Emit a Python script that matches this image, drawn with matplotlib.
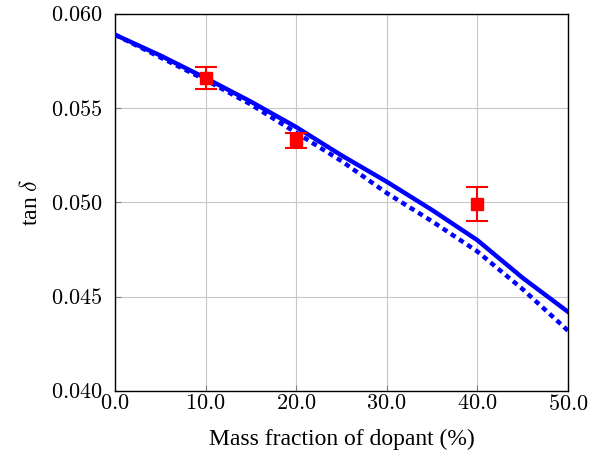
import numpy as np
import matplotlib.pyplot as plt

# model curves
x_model = [0, 5, 10, 15, 20, 25, 30, 35, 40, 45, 50]
tan_solid = [0.0589, 0.0578, 0.0566, 0.05535, 0.0540, 0.0525, 0.0511,
             0.0496, 0.0480, 0.0460, 0.0442]
tan_dashed = [0.0589, 0.0577, 0.0565, 0.0552, 0.0537, 0.0522, 0.0505,
              0.0490, 0.0474, 0.0454, 0.0432]

# measurements
x_meas = [10, 20, 40]
tan_meas = [0.0566, 0.0533, 0.0499]
tan_err = [0.0006, 0.0004, 0.0009]

x_ticks = [0, 10, 20, 30, 40, 50]
y_ticks = [0.040, 0.045, 0.050, 0.055, 0.060]

plt.rcParams['font.family'] = ['Liberation Serif', 'DejaVu Serif']
plt.rcParams['mathtext.fontset'] = 'cm'

fig = plt.figure(figsize=(6.02, 4.57), dpi=100)
ax = fig.add_axes([0.191, 0.1444, 0.7525, 0.825])

ax.plot(x_model, tan_solid, color='blue', lw=3.2, zorder=3)
ax.plot(x_model, tan_dashed, color='blue', lw=3.2, dashes=(1.2, 1.0), zorder=3)
ax.errorbar(x_meas, tan_meas, yerr=tan_err, fmt='s', color='red', ms=9,
            capsize=8, elinewidth=1.5, capthick=1.5, zorder=4)

ax.set_xlim(0, 50)
ax.set_ylim(0.040, 0.060)
ax.set_xticks(x_ticks)
ax.set_yticks(y_ticks)
ax.set_xticklabels(['$%.1f$' % v for v in x_ticks])
ax.set_yticklabels(['$%.3f$' % v for v in y_ticks])
ax.grid(True, color='#c8c8c8', lw=0.8)
ax.tick_params(direction='in', length=4, color='#808080', labelsize=16)
ax.tick_params(axis='y', pad=9)
ax.tick_params(axis='x', pad=3)
for sp in ax.spines.values():
    sp.set_linewidth(1.0)

ax.set_xlabel('Mass fraction of dopant (%)', fontsize=17, labelpad=10)
ax.set_ylabel(r'tan $\delta$', fontsize=17, labelpad=6)

fig.savefig('out.png', dpi=100)
